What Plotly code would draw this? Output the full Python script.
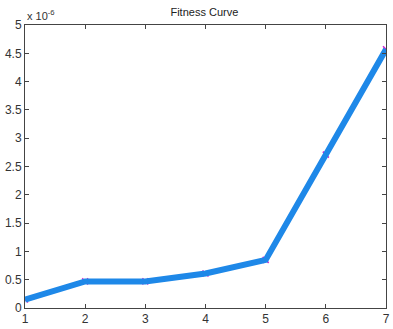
import plotly.graph_objects as go

# Fitness value recorded at each generation
generation = [1, 2, 3, 4, 5, 6, 7]
fitness = [0.15e-6, 0.47e-6, 0.47e-6, 0.61e-6, 0.85e-6, 2.71e-6, 4.57e-6]

y_ticks = [i * 0.5e-6 for i in range(11)]
y_tick_text = ["0", "0.5", "1", "1.5", "2", "2.5", "3", "3.5", "4", "4.5", "5"]
x_ticks = [1, 2, 3, 4, 5, 6, 7]

fig = go.Figure()

# point markers underneath the thick curve
fig.add_trace(go.Scatter(
    x=generation, y=fitness, mode="markers",
    marker=dict(symbol="x-thin", size=6, color="#d020d0",
                line=dict(width=1.5, color="#d020d0")),
    hoverinfo="skip", showlegend=False,
))
fig.add_trace(go.Scatter(
    x=generation, y=fitness, mode="lines",
    line=dict(color="#1e88e8", width=6),
    showlegend=False,
))

axis_common = dict(
    showgrid=False, zeroline=False, showline=True,
    linecolor="#444444", linewidth=1, mirror="ticks",
    ticks="inside", ticklen=4, tickcolor="#444444",
    tickfont=dict(family="Liberation Sans, Arial", size=12, color="#333333"),
)

fig.update_layout(
    width=393, height=329,
    margin=dict(l=25, r=3, t=25, b=16),
    paper_bgcolor="white", plot_bgcolor="white",
    title=dict(text="Fitness Curve", x=0.52, xanchor="center", y=0.962, yanchor="middle",
               font=dict(family="Liberation Sans, Arial", size=11, color="#222222")),
    xaxis=dict(range=[1, 7], tickvals=x_ticks, **axis_common),
    yaxis=dict(range=[0, 5e-6], tickvals=y_ticks, ticktext=y_tick_text, **axis_common),
    annotations=[dict(
        text="x 10<sup>-6</sup>", xref="paper", yref="paper",
        x=0, y=1, xanchor="left", yanchor="bottom", yshift=1, showarrow=False,
        font=dict(family="Liberation Sans, Arial", size=11, color="#333333"),
    )],
)

fig.write_html("out.html")
